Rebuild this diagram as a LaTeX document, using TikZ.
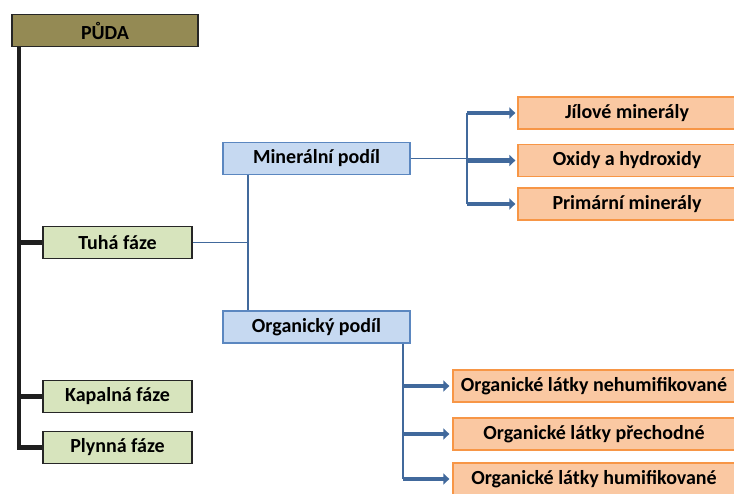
\documentclass[tikz,border=0pt]{standalone}
\usepackage{fontspec}
\setmainfont{Carlito}
\usetikzlibrary{positioning, arrows.meta}

\definecolor{olive}{HTML}{948A54}
\definecolor{phasegreen}{HTML}{D7E4BD}
\definecolor{partblue}{HTML}{C6D9F1}
\definecolor{partedge}{HTML}{5B87C0}
\definecolor{linkblue}{HTML}{41699C}
\definecolor{itemorange}{HTML}{FAC8A2}
\definecolor{itemedge}{HTML}{F79646}

\tikzset{
  box/.style={draw, line width=1.6pt, minimum height=32pt, inner sep=0pt,
    font=\bfseries\fontsize{20}{22}\selectfont},
  rootbox/.style={box, fill=olive, draw=black!85, minimum width=186pt},
  phasebox/.style={box, fill=phasegreen, draw=black!85, minimum width=149pt},
  partbox/.style={box, fill=partblue, draw=partedge, line width=1.3pt, minimum width=187pt},
  itembox/.style={box, fill=itemorange, draw=itemedge, line width=1.3pt},
  trunk/.style={line width=4.5pt, draw=black!88},
  link/.style={line width=1.8pt, draw=linkblue},
  arrowlink/.style={line width=4.5pt, draw=linkblue, -{Triangle[length=6pt,width=11pt]}}
}

\begin{document}
\begin{tikzpicture}[x=1pt, y=-1pt]
            \useasboundingbox (0,0) rectangle (734,494);

            %Nodes
            \node[rootbox] at (105,30.5) (puda) {PŮDA};
            \node[phasebox] at (117.5,242.5) (tuha) {Tuhá fáze};
            \node[phasebox] at (117.5,396.5) (kapalna) {Kapalná fáze};
            \node[phasebox] at (117.5,447.5) (plynna) {Plynná fáze};

            \node[partbox] at (316.5,158.5) (mineral) {Minerální podíl};
            \node[partbox] at (316.5,327) (organic) {Organický podíl};

            \node[itembox, minimum width=218pt] at (627,113) (jil) {Jílové minerály};
            \node[itembox, minimum width=218pt] at (627,160.5) (oxid) {Oxidy a hydroxidy};
            \node[itembox, minimum width=218pt] at (627,204) (prim) {Primární minerály};

            \node[itembox, minimum width=282pt] at (594,386) (nehum) {Organické látky nehumifikované};
            \node[itembox, minimum width=282pt] at (594,434) (prech) {Organické látky přechodné};
            \node[itembox, minimum width=282pt] at (594,479) (hum) {Organické látky humifikované};

            \coordinate (mfork) at (467,158.5);
            \coordinate (tfork) at (248,242.5);

            %Lines
            \draw[trunk] (puda.south west -| 19,0) |- (plynna.west);
            \draw[trunk] (19,0 |- tuha.west) -- (tuha.west);
            \draw[trunk] (19,0 |- kapalna.west) -- (kapalna.west);

            \draw[link] (tuha.east) -- (tfork);
            \draw[link] (mineral.south -| tfork) -- (organic.north -| tfork);

            \draw[link] (mineral.east) -- (mfork);
            \draw[link] (mfork |- jil.west) -- (mfork |- prim.west);
            \draw[arrowlink] (mfork |- jil.west) -- ([xshift=-2pt]jil.west);
            \draw[arrowlink] (mfork |- oxid.west) -- ([xshift=-2pt]oxid.west);
            \draw[arrowlink] (mfork |- prim.west) -- ([xshift=-2pt]prim.west);

            \draw[link] (403,0 |- organic.south) -- (403,0 |- hum.west);
            \draw[arrowlink] (403,0 |- nehum.west) -- ([xshift=-3pt]nehum.west);
            \draw[arrowlink] (403,0 |- prech.west) -- ([xshift=-3pt]prech.west);
            \draw[arrowlink] (403,0 |- hum.west) -- ([xshift=-3pt]hum.west);
        \end{tikzpicture}
\end{document}
